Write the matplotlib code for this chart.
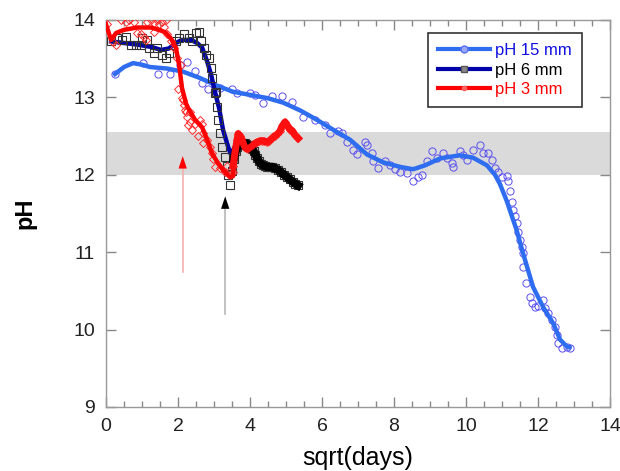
import matplotlib
matplotlib.use("Agg")
import matplotlib.pyplot as plt
from matplotlib.ticker import MultipleLocator

plt.rcParams["font.family"] = ["Liberation Sans", "DejaVu Sans"]

# pH 15 mm: fitted curve and measured points
x15_fit = [0.25, 0.5, 0.75, 1.0, 1.22, 1.7, 2.14, 2.6, 3.08, 3.53, 4.0, 4.47, 4.92, 5.39,
           5.85, 6.31, 6.78, 7.25, 7.69, 8.17, 8.53, 8.86, 9.28, 9.83, 10.19, 10.58,
           10.8, 10.94, 11.13, 11.4, 11.58, 11.86, 12.14, 12.42, 12.61, 12.8, 12.87]
y15_fit = [13.30, 13.39, 13.44, 13.42, 13.39, 13.37, 13.33, 13.25, 13.15, 13.07, 13.03,
           12.99, 12.93, 12.83, 12.71, 12.58, 12.45, 12.26, 12.16, 12.10, 12.07, 12.12,
           12.21, 12.25, 12.22, 12.12, 12.0, 11.88, 11.66, 11.29, 10.99, 10.55, 10.29,
           10.08, 9.87, 9.78, 9.77]
x15_pts = [0.25, 1.03, 1.44, 1.78, 2.06, 2.25, 2.47, 2.67, 2.83, 3.06, 3.17, 3.5, 3.64,
           4.0, 4.14, 4.36, 4.61, 4.89, 5.17, 5.47, 5.8, 6.08, 6.22, 6.44, 6.56, 6.69,
           6.86, 6.97, 7.19, 7.25, 7.39, 7.42, 7.56, 7.75, 7.89, 8.03, 8.17, 8.36, 8.53,
           8.67, 8.78, 8.92, 9.06, 9.19, 9.36, 9.47, 9.61, 9.64, 9.83, 9.92, 10.03, 10.19,
           10.39, 10.47, 10.61, 10.72, 10.81, 10.89, 11.0, 11.14, 11.17, 11.22, 11.28,
           11.31, 11.36, 11.42, 11.44, 11.5, 11.56, 11.58, 11.58, 11.67, 11.78, 11.83,
           11.92, 12.0, 12.14, 12.19, 12.28, 12.39, 12.47, 12.53, 12.56, 12.67, 12.8, 12.89]
y15_pts = [13.30, 13.44, 13.30, 13.30, 13.41, 13.46, 13.34, 13.19, 13.11, 13.07, 13.12,
           13.10, 13.06, 13.06, 13.03, 12.93, 13.01, 13.01, 12.94, 12.75, 12.70, 12.64,
           12.54, 12.56, 12.54, 12.42, 12.32, 12.27, 12.42, 12.38, 12.28, 12.17, 12.09,
           12.17, 12.13, 12.07, 12.04, 12.02, 11.92, 11.97, 12.00, 12.17, 12.30, 12.22,
           12.28, 12.22, 12.15, 12.10, 12.30, 12.26, 12.19, 12.32, 12.38, 12.28, 12.28,
           12.19, 12.09, 12.03, 11.97, 11.98, 11.92, 11.79, 11.65, 11.54, 11.46, 11.37,
           11.26, 11.15, 11.07, 10.99, 10.81, 10.60, 10.42, 10.34, 10.29, 10.31, 10.38,
           10.28, 10.21, 10.12, 10.03, 9.93, 9.83, 9.76, 9.78, 9.76]

# pH 6 mm
x6_fit = [0.14, 0.5, 0.86, 1.25, 1.53, 1.75, 1.94, 2.11, 2.36, 2.53, 2.67, 2.81, 2.92,
          3.0, 3.14, 3.25, 3.39, 3.47, 3.58, 3.7, 3.85, 4.0, 4.14, 4.28, 4.45, 4.64,
          4.82, 5.0, 5.17, 5.33]
y6_fit = [13.72, 13.70, 13.68, 13.65, 13.61, 13.63, 13.70, 13.74, 13.74, 13.70, 13.64,
          13.46, 13.29, 13.12, 12.86, 12.58, 12.36, 12.26, 12.36, 12.39, 12.41, 12.36,
          12.28, 12.17, 12.11, 12.10, 12.05, 11.98, 11.92, 11.85]
x6_pts = [0.14, 0.31, 0.44, 0.56, 0.69, 0.83, 0.97, 1.0, 1.14, 1.19, 1.33, 1.42, 1.56,
          1.67, 1.75, 1.94, 2.03, 2.17, 2.31, 2.39, 2.5, 2.58, 2.64, 2.72, 2.78, 2.86,
          2.92, 2.94, 3.03, 3.06, 3.08, 3.11, 3.17, 3.22, 3.31, 3.36, 3.39, 3.44, 3.5,
          3.55, 3.6, 3.65, 3.7, 3.75, 3.8, 3.85, 3.9, 3.95, 4.0, 4.05, 4.1, 4.15, 4.2,
          4.25, 4.3, 4.36, 4.42, 4.48, 4.55, 4.62, 4.7, 4.78, 4.86, 4.94, 5.02, 5.1,
          5.18, 5.26, 5.33]
y6_pts = [13.72, 13.77, 13.74, 13.78, 13.68, 13.68, 13.68, 13.77, 13.74, 13.63, 13.57,
          13.63, 13.55, 13.51, 13.57, 13.72, 13.77, 13.81, 13.77, 13.72, 13.83, 13.84,
          13.72, 13.64, 13.55, 13.51, 13.38, 13.25, 13.05, 13.07, 12.88, 12.71, 12.54,
          12.36, 12.23, 12.11, 11.99, 11.86, 12.05, 12.20, 12.30, 12.36, 12.38, 12.40,
          12.40, 12.41, 12.40, 12.38, 12.36, 12.33, 12.30, 12.26, 12.21, 12.17, 12.14,
          12.12, 12.11, 12.10, 12.10, 12.10, 12.08, 12.06, 12.03, 12.00, 11.97, 11.94,
          11.91, 11.88, 11.86]

# pH 3 mm
x3_fit = [0.0, 0.14, 0.28, 0.5, 0.86, 1.25, 1.47, 1.64, 1.8, 1.94, 2.03, 2.11, 2.22,
          2.28, 2.47, 2.67, 2.81, 2.94, 3.08, 3.25, 3.44, 3.53, 3.57, 3.64, 3.68, 3.78,
          3.88, 3.94, 4.06, 4.18, 4.32, 4.47, 4.61, 4.75, 4.88, 4.94, 5.05, 5.18, 5.33]
y3_fit = [13.94, 13.74, 13.83, 13.87, 13.90, 13.90, 13.87, 13.84, 13.76, 13.64, 13.42,
          13.12, 12.92, 12.86, 12.71, 12.61, 12.45, 12.28, 12.17, 12.06, 11.97, 11.98,
          12.25, 12.48, 12.53, 12.45, 12.34, 12.33, 12.37, 12.42, 12.44, 12.42, 12.47,
          12.52, 12.62, 12.67, 12.61, 12.55, 12.49]
x3_pts = [0.03, 0.19, 0.28, 0.42, 0.56, 0.64, 0.78, 0.86, 0.97, 1.06, 1.11, 1.14, 1.25,
          1.33, 1.33, 1.42, 1.47, 1.56, 1.61, 1.67, 1.69, 1.81, 1.89, 1.97, 2.0, 2.08,
          2.11, 2.14, 2.17, 2.19, 2.22, 2.25, 2.28, 2.33, 2.33, 2.39, 2.47, 2.56, 2.61,
          2.67, 2.69, 2.69, 2.81, 2.89, 2.94, 2.97, 3.03, 3.17, 3.31, 3.36, 3.44, 3.53,
          3.53, 3.58, 3.64, 3.67, 3.73, 3.78, 3.83, 3.88, 3.94, 4.0, 4.06, 4.12, 4.19,
          4.25, 4.33, 4.4, 4.47, 4.54, 4.61, 4.68, 4.75, 4.83, 4.88, 4.97, 5.06, 5.12,
          5.17, 5.25, 5.33]
y3_pts = [13.94, 13.71, 13.68, 14.00, 13.97, 14.00, 13.97, 13.83, 13.81, 13.78, 13.74,
          13.97, 14.00, 13.96, 13.84, 14.00, 13.94, 13.97, 13.91, 14.00, 13.81, 13.72,
          13.63, 13.51, 13.10, 13.42, 12.99, 12.97, 12.90, 12.84, 12.81, 12.75, 12.64,
          12.68, 12.81, 12.58, 12.66, 12.50, 12.71, 12.66, 12.54, 12.41, 12.45, 12.36,
          12.28, 12.20, 12.10, 12.08, 12.04, 12.11, 11.99, 12.04, 12.11, 12.28, 12.45,
          12.53, 12.50, 12.45, 12.38, 12.34, 12.33, 12.35, 12.37, 12.40, 12.42, 12.43,
          12.44, 12.43, 12.42, 12.44, 12.47, 12.50, 12.52, 12.56, 12.62, 12.68, 12.62,
          12.58, 12.57, 12.51, 12.47]

band = (12.0, 12.55)
red_arrow = (2.13, 10.74, 12.24)
black_arrow = (3.31, 10.2, 11.72)

fig = plt.figure(figsize=(6.2, 4.71), dpi=100)
ax = fig.add_axes([0.171, 0.136, 0.813, 0.822])

ax.axhspan(band[0], band[1], color="#d9dad9", lw=0, zorder=0)

ax.plot(x15_pts, y15_pts, ls="none", marker="o", ms=5.2, mfc="none", mec="#5a4ff0",
        mew=0.7, zorder=2)
ax.plot(x15_fit, y15_fit, color="#2f6df0", lw=3.2, zorder=3)
ax.plot(x6_fit, y6_fit, color="#0000a8", lw=3.2, zorder=3)
ax.plot(x6_pts, y6_pts, ls="none", marker="s", ms=5.2, mfc="none", mec="#333333",
        mew=0.8, zorder=4)
ax.plot(x3_pts, y3_pts, ls="none", marker="D", ms=4.5, mfc="none", mec="#ff3030",
        mew=0.7, zorder=4)
ax.plot(x3_fit, y3_fit, color="#ff0000", lw=3.2, zorder=5)
# the dense late parts of 6 mm and 3 mm read as thick bands
ax.plot(x6_pts[39:], y6_pts[39:], color="black", lw=6, zorder=4)
ax.plot(x3_pts[52:], y3_pts[52:], color="#ff1010", lw=5, zorder=5)

for (xa, y0, y1), lc, hc in [(red_arrow, "#f7b0b0", "red"),
                             (black_arrow, "#b8b8b8", "black")]:
    ax.plot([xa, xa], [y0, y1 - 0.1], color=lc, lw=1.2, zorder=1)
    ax.annotate("", xy=(xa, y1), xytext=(xa, y1 - 0.25),
                arrowprops=dict(arrowstyle="-|>,head_length=0.9,head_width=0.3",
                                color=hc, lw=0, shrinkA=0, shrinkB=0))

h15, = ax.plot([], [], color="#2f6df0", lw=3, marker="o", ms=5, mfc="#9aa8f0",
               mec="#5a6ff0")
h6, = ax.plot([], [], color="#0000a8", lw=3, marker="s", ms=5, mfc="#888888",
              mec="#555555")
h3, = ax.plot([], [], color="#ff0000", lw=3, marker="o", ms=3, mfc="#ff6060",
              mec="#ff6060")
leg = ax.legend([h15, h6, h3], ["pH 15 mm", "pH 6 mm", "pH 3 mm"],
                loc="upper right", bbox_to_anchor=(0.944, 0.966), borderaxespad=0,
                fontsize=12, frameon=True, fancybox=False, handlelength=3.1,
                handletextpad=0.3, labelspacing=0.28, borderpad=0.6)
leg.get_frame().set_edgecolor("black")
leg.get_frame().set_linewidth(1.2)
for t, c in zip(leg.get_texts(), ["#1010e0", "black", "red"]):
    t.set_color(c)

ax.set_xlim(0, 14)
ax.set_ylim(9, 14)
ax.xaxis.set_major_locator(MultipleLocator(2))
ax.xaxis.set_minor_locator(MultipleLocator(0.5))
ax.yaxis.set_major_locator(MultipleLocator(1))
ax.tick_params(which="both", direction="in", top=True, right=True, color="#888888",
               labelsize=14, labelcolor="#222222", pad=8)
ax.tick_params(which="major", length=7, width=1)
ax.tick_params(which="minor", length=4, width=1)
for s in ax.spines.values():
    s.set_color("#999999")
    s.set_linewidth(1)

ax.set_xlabel("sqrt(days)", fontsize=18, labelpad=8)
ax.set_ylabel("pH", fontsize=17, fontweight="bold", labelpad=26)

fig.savefig("out.png", dpi=100)
